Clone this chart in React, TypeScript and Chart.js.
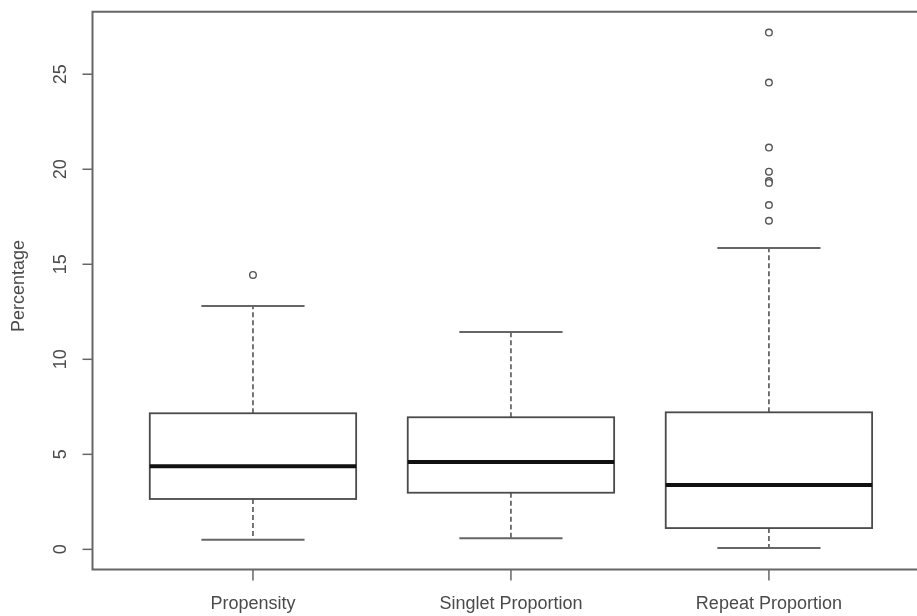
import React, { useEffect, useRef } from "react";
import { Chart, registerables } from "chart.js";

Chart.register(...registerables);

const categories = ["Propensity", "Singlet Proportion", "Repeat Proportion"];
const lowerWhisker = [0.51, 0.59, 0.07];
const q1 = [2.65, 2.98, 1.12];
const median = [4.37, 4.59, 3.38];
const q3 = [7.16, 6.95, 7.21];
const upperWhisker = [12.8, 11.44, 15.86];
const propensityOutliers = [14.44];
const singletOutliers: number[] = [];
const repeatOutliers = [27.19, 24.56, 21.14, 19.87, 19.38, 19.28, 18.12, 17.29];
const yTicks = [0, 5, 10, 15, 20, 25];
const yTitle = "Percentage";

const FONT = '"Liberation Sans", Arial, sans-serif';

const boxPlugin = {
  id: "rbox",
  beforeDatasetsDraw(chart: any) {
    const { ctx } = chart;
    const xs = chart.scales.x;
    const ys = chart.scales.y;
    ctx.save();
    categories.forEach((_, i) => {
      const c = i + 1;
      const xl = xs.getPixelForValue(c - 0.4);
      const xr = xs.getPixelForValue(c + 0.4);
      const xc = xs.getPixelForValue(c);
      const cl = xs.getPixelForValue(c - 0.2);
      const cr = xs.getPixelForValue(c + 0.2);
      const yq1 = ys.getPixelForValue(q1[i]);
      const yq3 = ys.getPixelForValue(q3[i]);
      const ym = ys.getPixelForValue(median[i]);
      const ylo = ys.getPixelForValue(lowerWhisker[i]);
      const yhi = ys.getPixelForValue(upperWhisker[i]);
      // whiskers
      ctx.strokeStyle = "#555";
      ctx.lineWidth = 1.6;
      ctx.setLineDash([5, 3]);
      ctx.beginPath();
      ctx.moveTo(xc, yq3);
      ctx.lineTo(xc, yhi);
      ctx.moveTo(xc, yq1);
      ctx.lineTo(xc, ylo);
      ctx.stroke();
      ctx.setLineDash([]);
      // caps
      ctx.strokeStyle = "#666";
      ctx.lineWidth = 2;
      ctx.beginPath();
      ctx.moveTo(cl, yhi);
      ctx.lineTo(cr, yhi);
      ctx.moveTo(cl, ylo);
      ctx.lineTo(cr, ylo);
      ctx.stroke();
      // box
      ctx.strokeStyle = "#4a4a4a";
      ctx.lineWidth = 1.8;
      ctx.strokeRect(xl, yq3, xr - xl, yq1 - yq3);
      // median
      ctx.strokeStyle = "#111";
      ctx.lineWidth = 4;
      ctx.beginPath();
      ctx.moveTo(xl, ym);
      ctx.lineTo(xr, ym);
      ctx.stroke();
    });
    ctx.restore();
  },
  afterDraw(chart: any) {
    const { ctx, chartArea } = chart;
    const xs = chart.scales.x;
    const ys = chart.scales.y;
    const { left, top, bottom } = chartArea;
    ctx.save();
    ctx.strokeStyle = "#666";
    ctx.lineWidth = 2;
    ctx.beginPath();
    ctx.moveTo(chart.width, top);
    ctx.lineTo(left, top);
    ctx.lineTo(left, bottom);
    ctx.lineTo(chart.width, bottom);
    ctx.stroke();
    // y ticks
    ctx.lineWidth = 1.5;
    ctx.fillStyle = "#4a4a4a";
    ctx.font = "18px " + FONT;
    yTicks.forEach((t) => {
      const y = ys.getPixelForValue(t);
      ctx.beginPath();
      ctx.moveTo(left - 10, y);
      ctx.lineTo(left, y);
      ctx.stroke();
      ctx.save();
      ctx.translate(left - 31, y);
      ctx.rotate(-Math.PI / 2);
      ctx.textAlign = "center";
      ctx.textBaseline = "middle";
      ctx.fillText(String(t), 0, 0);
      ctx.restore();
    });
    // y title
    ctx.save();
    ctx.translate(19, 286);
    ctx.rotate(-Math.PI / 2);
    ctx.textAlign = "center";
    ctx.textBaseline = "middle";
    ctx.fillText(yTitle, 0, 0);
    ctx.restore();
    // x ticks
    ctx.textAlign = "center";
    ctx.textBaseline = "middle";
    categories.forEach((cat, i) => {
      const x = xs.getPixelForValue(i + 1);
      ctx.beginPath();
      ctx.moveTo(x, bottom);
      ctx.lineTo(x, bottom + 11);
      ctx.stroke();
      ctx.fillText(cat, x, 604);
    });
    ctx.restore();
  },
};

export default function App() {
  const ref = useRef<HTMLCanvasElement>(null);
  useEffect(() => {
    document.body.style.margin = "0";
    document.body.style.overflow = "hidden";
    const outlierPoints = [
      ...propensityOutliers.map((v) => ({ x: 1, y: v })),
      ...singletOutliers.map((v) => ({ x: 2, y: v })),
      ...repeatOutliers.map((v) => ({ x: 3, y: v })),
    ];
    const chart = new Chart(ref.current!, {
      type: "scatter",
      data: {
        datasets: [
          {
            data: outlierPoints,
            pointRadius: 3.3,
            pointBorderWidth: 1.4,
            pointBorderColor: "#555",
            pointBackgroundColor: "#fff",
          },
        ],
      },
      options: {
        animation: false,
        responsive: false,
        devicePixelRatio: 1,
        layout: { autoPadding: false, padding: { left: 92.5, top: 11.7, right: 0, bottom: 46.5 } },
        plugins: { legend: { display: false }, tooltip: { enabled: false } },
        scales: {
          x: { type: "linear", min: 0.378, max: 3.574, display: false },
          y: { type: "linear", min: -1.06, max: 28.29, display: false },
        },
      },
      plugins: [boxPlugin],
    });
    return () => chart.destroy();
  }, []);
  return (
    <div style={{ position: "fixed", left: 0, top: 0, width: 917, height: 616, background: "#fff" }}>
      <canvas ref={ref} width={917} height={616} />
    </div>
  );
}
